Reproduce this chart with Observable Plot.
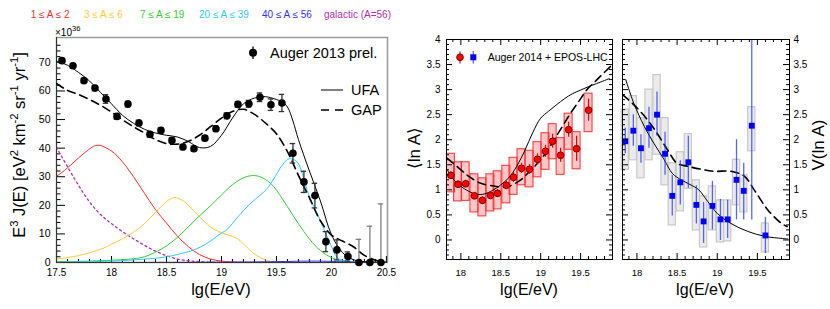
<!DOCTYPE html>
<html><head><meta charset="utf-8">
<script src="https://cdn.jsdelivr.net/npm/d3@7"></script>
<script src="https://cdn.jsdelivr.net/npm/@observablehq/plot@0.6"></script>
<style>
body{margin:0;background:#fff;}
#root{position:relative;width:830px;height:309px;overflow:hidden;background:#fff;}
.panel{position:absolute;top:0;height:309px;}
#overlay{position:absolute;left:0;top:0;pointer-events:none;}
</style></head><body>
<div id="root">
 <div id="p1" class="panel" style="left:0;width:420px"></div>
 <div id="p2" class="panel" style="left:420px;width:197px"></div>
 <div id="p3" class="panel" style="left:617px;width:213px"></div>
 <svg id="overlay" width="830" height="309"></svg>
</div>
<script>
// ---------------- DATA ----------------
const compNames = ["1 ≤ A ≤ 2","3 ≤ A ≤ 6","7 ≤ A ≤ 19","20 ≤ A ≤ 39","40 ≤ A ≤ 56","galactic (A=56)"];
const compColors = ["#ff2a2a","#ffc933","#2fcf2f","#2ec8ff","#3030ff","#b030b0"];

// Auger 2013 spectrum (E^3 J, x10^36)
const augerE = [17.55,17.65,17.75,17.85,17.95,18.05,18.15,18.25,18.35,18.45,18.55,18.65,18.75,18.85,18.95,19.05,19.15,19.25,19.35,19.45,19.55,19.65,19.75,19.85,19.95,20.05,20.15,20.25,20.35,20.45];
const augerJ = [70.6,68.8,63.6,61.0,57.2,51.1,55.4,48.8,44.8,46.2,42.7,40.4,39.8,43.5,46.8,51.3,55.3,55.5,57.8,55.2,55.8,38.2,28.2,23.4,7.3,4.4,2.1,0,0,0];
const augerErr = [0.8,0.8,0.8,0.9,1.5,1.0,1.0,1.0,0.9,0.9,0.9,0.9,0.9,0.9,1.0,1.0,1.0,1.2,1.5,2.0,3.0,3.4,3.7,4.3,3.5,3.5,1.6,8.1,12.7,20.5];

// UFA (solid) and GAP (dashed) total spectra
const ufaE = [17.5,17.6,17.7,17.8,17.9,18.0,18.1,18.2,18.3,18.4,18.5,18.6,18.7,18.8,18.9,19.0,19.1,19.2,19.3,19.4,19.5,19.55,19.6,19.65,19.7,19.8,19.9,20.0,20.1,20.2,20.3,20.5];
const ufaJ = [70.4,69.0,66.5,63.5,59.5,55.5,51.5,48.7,46.6,45.3,44.5,43.9,42.3,40.2,40.6,44.5,50.5,55.5,57.5,58.0,57.0,56.2,54.4,49.5,43.0,32.0,21.5,9.8,3.5,1.0,0.3,0];
const gapE = [17.5,17.6,17.7,17.8,17.9,18.0,18.1,18.2,18.3,18.4,18.5,18.6,18.7,18.8,18.9,19.0,19.1,19.2,19.3,19.4,19.5,19.6,19.7,19.8,19.9,20.0,20.1,20.2,20.3,20.4,20.5];
const gapJ = [62.6,60.2,58.8,57.0,55.0,52.6,49.9,47.5,45.3,43.0,41.6,41.4,42.4,44.5,47.5,50.5,52.8,53.6,51.8,48.8,45.0,38.8,30.5,22.6,14.6,9.6,7.5,5.5,2.5,0.8,0];

// mass-group components
const c1E = [17.5,17.55,17.65,17.75,17.87,18.0,18.1,18.2,18.3,18.4,18.5,18.6,18.7,18.8,18.9,19.0,19.1,19.3,20.5];
const c1V = [30.2,31.5,34.8,38.2,41.0,39.0,35.2,30.0,24.2,18.5,13.8,9.2,5.5,2.8,1.2,0.5,0.2,0,0];
const c2E = [17.5,17.7,17.9,18.0,18.1,18.2,18.3,18.4,18.5,18.57,18.65,18.7,18.8,18.9,19.0,19.1,19.15,19.2,19.3,19.4,19.5,20.5];
const c2V = [1.2,2.4,4.6,6.4,8.3,10.6,13.6,17.5,21.3,22.7,21.6,20.0,16.0,12.5,10.4,9.1,8.2,6.5,3.0,0.9,0.2,0];
const c3E = [17.5,17.8,18.0,18.2,18.3,18.4,18.5,18.6,18.7,18.8,18.9,19.0,19.1,19.2,19.28,19.35,19.45,19.55,19.65,19.75,19.85,19.95,20.05,20.15,20.3,20.5];
const c3V = [0.3,0.5,0.8,1.3,2.0,3.6,5.8,8.8,12.5,16.3,19.8,23.6,27.2,29.6,30.4,30.0,27.6,22.5,16.5,10.8,6.0,2.8,1.0,0.3,0,0];
const c4E = [17.5,18.0,18.3,18.5,18.7,18.81,18.9,19.0,19.05,19.15,19.26,19.35,19.41,19.48,19.54,19.6,19.63,19.69,19.74,19.78,19.84,19.9,19.95,19.99,20.05,20.1,20.2,20.5];
const c4V = [0.1,0.5,1.2,2.0,3.8,5.4,7.5,10.3,11.5,16.0,20.5,23.5,25.6,29.5,33.4,36.0,36.3,35.1,30.5,25.2,19.5,14.7,10.0,6.5,1.9,0.8,0.3,0];
const c5E = [17.5,19.0,19.5,19.8,20.0,20.2,20.5];
const c5V = [0,0.1,0.3,0.5,0.4,0.1,0];
const galE = [17.5,17.6,17.7,17.8,17.9,18.0,18.1,18.2,18.3,18.4,18.5,18.6,18.7,18.8,19.0];
const galV = [40.3,33.5,27.0,21.2,16.8,13.6,10.8,8.3,6.0,4.0,2.4,1.2,0.6,0.3,0];

// <ln A> (Auger 2014 + EPOS-LHC)
const lnaE = [17.875,17.965,18.06,18.17,18.27,18.37,18.46,18.57,18.66,18.76,18.86,18.96,19.06,19.15,19.25,19.35,19.45,19.6];
const lnaV = [1.29,1.11,1.12,0.88,0.79,0.89,0.93,1.09,1.25,1.43,1.41,1.61,1.77,1.97,1.69,2.20,1.82,2.59];
const lnaSysHi = [1.72,1.55,1.55,1.31,1.23,1.31,1.37,1.48,1.64,1.81,1.78,1.95,2.13,2.31,2.03,2.52,2.15,2.92];
const lnaSysLo = [0.95,0.77,0.78,0.55,0.47,0.57,0.61,0.73,0.90,1.09,1.05,1.25,1.40,1.61,1.30,1.80,1.41,2.15];
const lnaStat = [0.07,0.07,0.07,0.07,0.07,0.07,0.08,0.08,0.10,0.10,0.10,0.11,0.12,0.14,0.14,0.15,0.25,0.22];
const lnaUfaE = [17.83,17.9,18.0,18.1,18.2,18.3,18.4,18.5,18.6,18.7,18.8,18.9,19.0,19.1,19.2,19.3,19.4,19.5,19.6,19.7,19.86];
const lnaUfaV = [1.40,1.22,1.07,0.97,0.91,0.92,0.99,1.10,1.24,1.47,1.78,2.14,2.43,2.57,2.70,2.82,2.92,2.99,3.06,3.12,3.22];
const lnaGapE = [17.83,18.0,18.1,18.25,18.4,18.5,18.6,18.75,18.85,18.96,19.07,19.17,19.27,19.375,19.48,19.58,19.67,19.75,19.9];
const lnaGapV = [1.63,1.40,1.27,1.13,1.08,1.06,1.07,1.20,1.35,1.53,1.75,2.00,2.26,2.53,2.77,3.00,3.14,3.27,3.50];

// V(ln A)
const vE = [17.855,17.955,18.05,18.15,18.25,18.35,18.44,18.54,18.64,18.74,18.83,18.94,19.04,19.13,19.24,19.33,19.43,19.6];
const vV = [1.97,2.18,1.83,2.23,2.50,1.72,0.88,1.15,1.55,0.70,0.37,0.68,0.41,0.41,1.20,0.98,2.28,0.09];
const vSysHi = [2.60,2.87,2.43,3.00,3.29,2.43,1.53,1.75,2.11,1.19,0.87,1.07,0.79,0.79,1.60,1.29,2.65,0.33];
const vSysLo = [1.40,1.59,1.23,1.59,1.70,1.09,0.29,0.57,1.02,0.19,-0.15,0.19,-0.05,-0.03,0.69,0.55,1.77,-0.25];
const vStatHi = [2.23,2.50,2.10,2.65,2.95,2.15,1.29,1.58,2.07,1.08,0.75,1.17,0.81,0.79,2.00,1.53,4.10,0.45];
const vStatLo = [1.72,1.87,1.53,1.83,2.07,1.29,0.48,0.70,1.03,0.32,-0.07,0.20,-0.01,0.03,0.40,0.40,0.40,-0.27];
const vUfaE = [17.86,17.96,18.09,18.21,18.34,18.44,18.55,18.67,18.77,18.88,19.0,19.17,19.38,19.6,19.81,19.88];
const vUfaV = [3.20,2.73,2.27,1.93,1.60,1.33,1.20,1.10,1.00,0.77,0.53,0.33,0.17,0.07,0.03,0.02];
const vGapE = [17.82,17.96,18.13,18.25,18.38,18.5,18.63,18.8,18.96,19.17,19.34,19.46,19.63,19.8,19.87];
const vGapV = [2.90,2.70,2.40,2.13,1.80,1.53,1.47,1.41,1.37,1.37,1.27,1.00,0.60,0.33,0.27];

// tick labels
const leftXTicks = [17.5,18,18.5,19,19.5,20,20.5];
const leftYTicks = [0,10,20,30,40,50,60,70];
const midXTicks = [18,18.5,19,19.5];
const midYTicks = [0,0.5,1,1.5,2,2.5,3,3.5,4];

// ---------------- RENDER ----------------
const FONT = '"Liberation Sans", Arial, Helvetica, sans-serif';
const zip = (E, V) => E.map((e, i) => ({e, v: V[i]}));

function frameTicks(xd, yd, iw, ih, spec) {
  const kx = (xd[1] - xd[0]) / iw, ky = (yd[1] - yd[0]) / ih;
  const out = [];
  for (const [vals, len, side] of spec) {
    const st = {stroke: "black", strokeWidth: 1};
    if (side === "bottom") out.push(Plot.ruleX(vals, {x: d => d, y1: () => yd[0], y2: () => yd[0] + len * ky, ...st}));
    if (side === "top") out.push(Plot.ruleX(vals, {x: d => d, y1: () => yd[1], y2: () => yd[1] - len * ky, ...st}));
    if (side === "left") out.push(Plot.ruleY(vals, {y: d => d, x1: () => xd[0], x2: () => xd[0] + len * kx, ...st}));
    if (side === "right") out.push(Plot.ruleY(vals, {y: d => d, x1: () => xd[1], x2: () => xd[1] - len * kx, ...st}));
  }
  return out;
}

// ---- Left panel ----
{
  const W = 420, H = 309, mL = 56, mR = 33, mT = 37, mB = 47;
  const xd = [17.5, 20.51], yd = [0, 78.7];
  const pts = augerE.map((e, i) => ({e, v: augerJ[i], lo: Math.max(0, augerJ[i] - augerErr[i]), hi: augerJ[i] + augerErr[i], lim: augerJ[i] === 0}));
  const xMinor = d3.range(176, 205).filter(v => v % 5 !== 0).map(v => v / 10);
  const yMinor = d3.range(2, 78, 2).filter(v => v % 10 !== 0);
  const comps = [[c1E, c1V], [c2E, c2V], [c3E, c3V], [c4E, c4V], [c5E, c5V]];
  const plot = Plot.plot({
    width: W, height: H, marginLeft: mL, marginRight: mR, marginTop: mT, marginBottom: mB,
    style: {fontFamily: FONT, fontSize: "10px", background: "transparent", color: "black"},
    x: {domain: xd}, y: {domain: yd},
    marks: [
      Plot.frame({stroke: "#9a9a9a", strokeWidth: 1.5}),
      ...frameTicks(xd, yd, W - mL - mR, H - mT - mB, [
        [leftXTicks, 6, "bottom"], [xMinor, 3, "bottom"],
        [leftYTicks, 9, "left"], [yMinor, 4.5, "left"]
      ]),
      Plot.line(zip(galE, galV), {x: "e", y: "v", stroke: compColors[5], strokeWidth: 1.3, strokeDasharray: "2,3", curve: "catmull-rom", clip: true}),
      ...comps.map(([E, V], i) => Plot.line(zip(E, V), {x: "e", y: "v", stroke: compColors[i], strokeWidth: 1, curve: "catmull-rom", clip: true})),
      Plot.ruleX([17.5], {stroke: "#333"}),
      Plot.ruleY([0], {stroke: "#333"}),
      Plot.line(zip(gapE, gapJ), {x: "e", y: "v", stroke: "black", strokeWidth: 1.6, strokeDasharray: "8,5", curve: "catmull-rom", clip: true}),
      Plot.line(zip(ufaE, ufaJ), {x: "e", y: "v", stroke: "black", strokeWidth: 1, curve: "catmull-rom", clip: true}),
      Plot.ruleX(pts, {x: "e", y1: "lo", y2: "hi", stroke: d => d.lim ? "#808080" : "#333", strokeWidth: 1.3}),
      Plot.ruleY(pts, {y: "hi", x1: d => d.e - 0.025, x2: d => d.e + 0.025, stroke: d => d.lim ? "#808080" : "#333", strokeWidth: 1.3}),
      Plot.ruleY(pts.filter(d => !d.lim), {y: "lo", x1: d => d.e - 0.025, x2: d => d.e + 0.025, stroke: "#333", strokeWidth: 1.3}),
      Plot.dot(pts, {x: "e", y: "v", r: 3.8, fill: "black", stroke: "none"}),
      Plot.axisX({ticks: leftXTicks, tickSize: 0, tickPadding: 6, tickFormat: d => String(d), label: null, fontSize: 10}),
      Plot.axisY({ticks: leftYTicks, tickSize: 0, tickPadding: 6, tickFormat: d => String(d), label: null, fontSize: 10.5})
    ]
  });
  document.getElementById("p1").append(plot);
}

// ---- Middle / right panels ----
function compPanel(el, W, mL, mR, opts) {
  const H = 309, mT = 39, mB = 50;
  const xd = [17.82, 19.9], yd = [-0.39, 4];
  const xMinor = d3.range(179, 199).filter(v => v % 5 !== 0).map(v => v / 10);
  const yMinor = d3.range(-3, 40).filter(v => v % 5 !== 0).map(v => v / 10);
  const plot = Plot.plot({
    width: W, height: H, marginLeft: mL, marginRight: mR, marginTop: mT, marginBottom: mB,
    style: {fontFamily: FONT, fontSize: "10px", background: "transparent", color: "black"},
    x: {domain: xd}, y: {domain: yd},
    marks: [
      ...opts.marks,
      Plot.frame({stroke: "black", strokeWidth: 1}),
      ...frameTicks(xd, yd, W - mL - mR, H - mT - mB, [
        [midXTicks, 6, "bottom"], [xMinor, 3, "bottom"], [midXTicks, 6, "top"], [xMinor, 3, "top"],
        [midYTicks, 6, "left"], [yMinor, 3, "left"], [midYTicks, 6, "right"], [yMinor, 3, "right"]
      ]),
      Plot.axisX({ticks: midXTicks, tickSize: 0, tickPadding: 10, tickFormat: d => String(d), label: null, fontSize: 9.5}),
      Plot.axisY({ticks: midYTicks, anchor: opts.yAnchor, tickSize: 0, tickPadding: opts.yPad, tickFormat: d => String(d), label: null, fontSize: 10})
    ]
  });
  document.getElementById(el).append(plot);
}

{
  const d = lnaE.map((e, i) => ({e, v: lnaV[i], lo: lnaSysLo[i], hi: lnaSysHi[i], s: lnaStat[i]}));
  compPanel("p2", 197, 26, 5, {yAnchor: "left", yPad: 6, marks: [
    Plot.rect(d, {x1: p => p.e - 0.05, x2: p => p.e + 0.05, y1: "lo", y2: "hi", fill: "#ff0000", fillOpacity: 0.22, stroke: "#ff3030", strokeWidth: 1}),
    Plot.line(zip(lnaGapE, lnaGapV), {x: "e", y: "v", stroke: "black", strokeWidth: 1.6, strokeDasharray: "8,5", curve: "catmull-rom", clip: true}),
    Plot.line(zip(lnaUfaE, lnaUfaV), {x: "e", y: "v", stroke: "black", strokeWidth: 1, curve: "catmull-rom", clip: true}),
    Plot.ruleX(d, {x: "e", y1: p => p.v - p.s, y2: p => p.v + p.s, stroke: "#e00000", strokeWidth: 1.2}),
    Plot.dot(d, {x: "e", y: "v", r: 3.4, fill: "#ff0000", stroke: "#500000", strokeWidth: 0.8})
  ]});
}
{
  const d = vE.map((e, i) => ({e, v: vV[i], lo: vSysLo[i], hi: vSysHi[i], slo: vStatLo[i], shi: vStatHi[i]}));
  compPanel("p3", 213, 5, 41, {yAnchor: "right", yPad: 4, marks: [
    Plot.rect(d, {x1: p => p.e - 0.045, x2: p => p.e + 0.045, y1: "lo", y2: "hi", fill: "#d8d8d8", fillOpacity: 0.5, stroke: "#c8c8c8", strokeWidth: 1.2}),
    Plot.line(zip(vGapE, vGapV), {x: "e", y: "v", stroke: "black", strokeWidth: 1.6, strokeDasharray: "8,5", curve: "catmull-rom", clip: true}),
    Plot.line(zip(vUfaE, vUfaV), {x: "e", y: "v", stroke: "black", strokeWidth: 1, curve: "catmull-rom", clip: true}),
    Plot.ruleX(d, {x: "e", y1: "slo", y2: "shi", stroke: "#2233ff", strokeOpacity: 0.75, strokeWidth: 1.3, clip: true}),
    Plot.dot(d, {x: "e", y: "v", r: 3.3, symbol: "square", fill: "#0000ff", stroke: "none"})
  ]});
}

// ---- Overlay: titles and legends ----
const ov = d3.select("#overlay").attr("font-family", FONT);
const legendX = [30.7, 84, 140, 199, 262, 324];
compNames.forEach((n, i) => ov.append("text").attr("x", legendX[i]).attr("y", 17.5).attr("font-size", 10).attr("fill", compColors[i]).text(n));

const mult = ov.append("text").attr("x", 55).attr("y", 36).attr("font-size", 10);
mult.append("tspan").text("×10");
mult.append("tspan").attr("dy", -5).attr("font-size", 7.5).text("36");

function supText(sel, parts, size) {
  const supSize = size * 0.68, shift = size * 0.42;
  let up = false;
  for (const [t, sup] of parts) {
    const ts = sel.append("tspan").text(t);
    if (sup && !up) { ts.attr("dy", -shift).attr("font-size", supSize); up = true; }
    else if (sup) { ts.attr("font-size", supSize); }
    else if (!sup && up) { ts.attr("dy", shift); up = false; }
  }
}
const ytl = ov.append("text").attr("transform", "translate(25,145) rotate(-90)").attr("text-anchor", "middle").attr("font-size", 16.5);
supText(ytl, [["E", 0], ["3", 1], [" J(E) [eV", 0], ["2", 1], [" km", 0], ["-2", 1], [" sr", 0], ["-1", 1], [" yr", 0], ["-1", 1], ["]", 0]], 16.5);

ov.append("text").attr("transform", "translate(420,148) rotate(-90)").attr("text-anchor", "middle").attr("font-size", 17).text("⟨ln A⟩");
ov.append("text").attr("transform", "translate(824,145) rotate(-90)").attr("text-anchor", "middle").attr("font-size", 17).text("V(ln A)");
[[221, 295, 16.5], [529, 295, 16], [705, 295, 16]].forEach(([x, y, fs]) =>
  ov.append("text").attr("x", x).attr("y", y).attr("text-anchor", "middle").attr("font-size", fs).text("lg(E/eV)"));

// left legend
ov.append("line").attr("x1", 253).attr("x2", 253).attr("y1", 46.5).attr("y2", 59).attr("stroke", "black").attr("stroke-width", 1.3);
ov.append("circle").attr("cx", 253).attr("cy", 52.7).attr("r", 4).attr("fill", "black");
ov.append("text").attr("x", 270).attr("y", 57.8).attr("font-size", 14.5).text("Auger 2013 prel.");
ov.append("line").attr("x1", 321).attr("x2", 343).attr("y1", 90).attr("y2", 90).attr("stroke", "black").attr("stroke-width", 1);
ov.append("text").attr("x", 351).attr("y", 95.2).attr("font-size", 14.5).text("UFA");
ov.append("line").attr("x1", 321).attr("x2", 343).attr("y1", 110).attr("y2", 110).attr("stroke", "black").attr("stroke-width", 1.6).attr("stroke-dasharray", "8,6");
ov.append("text").attr("x", 351).attr("y", 115.2).attr("font-size", 14.5).text("GAP");

// middle legend
ov.append("line").attr("x1", 460).attr("x2", 460).attr("y1", 51.5).attr("y2", 63.5).attr("stroke", "#e00000").attr("stroke-width", 1.2);
ov.append("circle").attr("cx", 460).attr("cy", 57.3).attr("r", 3.4).attr("fill", "#ff0000").attr("stroke", "#500000").attr("stroke-width", 0.8);
ov.append("line").attr("x1", 473.3).attr("x2", 473.3).attr("y1", 51).attr("y2", 63.5).attr("stroke", "#2233ff").attr("stroke-opacity", 0.75).attr("stroke-width", 1.3);
ov.append("rect").attr("x", 470.3).attr("y", 54.3).attr("width", 6).attr("height", 6).attr("fill", "#0000ff");
ov.append("text").attr("x", 487.7).attr("y", 60.8).attr("font-size", 10.5).text("Auger 2014 + EPOS-LHC");
</script>
</body></html>
